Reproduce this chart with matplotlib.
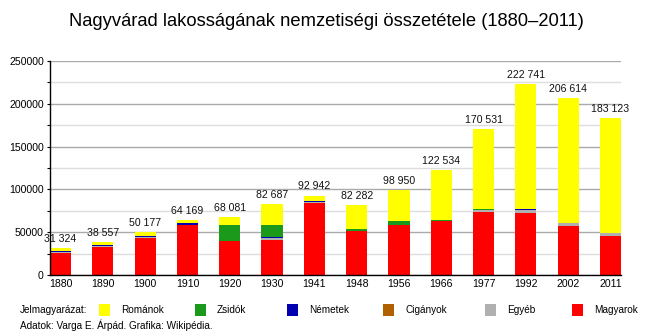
import numpy as np
import matplotlib
matplotlib.use("Agg")
import matplotlib.pyplot as plt
from matplotlib.patches import Rectangle
from matplotlib.ticker import MultipleLocator

plt.rcParams["font.family"] = ["Liberation Sans", "DejaVu Sans"]

# data: population by nationality, Nagyvárad census years
years = ["1880", "1890", "1900", "1910", "1920", "1930", "1941",
         "1948", "1956", "1966", "1977", "1992", "2002", "2011"]
totals = [31324, 38557, 50177, 64169, 68081, 82687, 92942,
          82282, 98950, 122534, 170531, 222741, 206614, 183123]
magyarok = [26500, 33500, 44000, 58421, 40300, 41500, 84800,
            51700, 58424, 62800, 74000, 72800, 56985, 45305]
egyeb = [700, 600, 800, 728, 0, 2200, 700,
         0, 700, 300, 2300, 3000, 4334, 4000]
ciganyok = [0, 0, 0, 0, 0, 300, 0,
            0, 0, 0, 0, 0, 0, 0]
nemetek = [1200, 700, 800, 1416, 0, 900, 1000,
           0, 0, 0, 0, 1000, 0, 0]
zsidok = [0, 0, 0, 0, 18500, 13700, 0,
          2800, 3830, 950, 900, 0, 0, 0]
# romanians: the rest of the total
romanok = [t - m - e - c - n - z for t, m, e, c, n, z in
           zip(totals, magyarok, egyeb, ciganyok, nemetek, zsidok)]

# bottom -> top stacking order
series = [
    ("Magyarok", magyarok, "#ff0000"),
    ("Egyéb", egyeb, "#b0b0b0"),
    ("Cigányok", ciganyok, "#b06000"),
    ("Németek", nemetek, "#0000b0"),
    ("Zsidók", zsidok, "#1a991a"),
    ("Románok", romanok, "#ffff00"),
]

W, H = 650, 335
fig = plt.figure(figsize=(W / 100, H / 100), dpi=100)
fig.patch.set_facecolor("white")
ax = fig.add_axes([50 / W, 1 - 275.3 / H, 571 / W, 214.6 / H])

x = np.arange(len(years))
bottom = np.zeros(len(years))
for name, vals, col in series:
    ax.bar(x, vals, width=0.5, bottom=bottom, color=col, linewidth=0, zorder=3)
    bottom += np.array(vals)

for xi, t in zip(x, totals):
    ax.annotate(f"{t:,}".replace(",", " "), (xi, t), xytext=(0, 3),
                textcoords="offset points", ha="center", va="bottom",
                fontsize=7.6, color="#111111")

ax.set_xlim(-0.25, len(years) - 0.75)
ax.set_ylim(0, 250000)
ax.set_xticks(x)
ax.set_xticklabels(years)
ax.yaxis.set_major_locator(MultipleLocator(50000))
ax.yaxis.set_minor_locator(MultipleLocator(25000))
ax.grid(axis="y", which="major", color="#aaaaaa", lw=1, zorder=0)
ax.grid(axis="y", which="minor", color="#dddddd", lw=1, zorder=0)
ax.tick_params(axis="x", length=0, labelsize=7.6, pad=3)
ax.tick_params(axis="y", which="both", length=2.5, width=0.8, labelsize=7.6, pad=2)
for s in ("top", "right"):
    ax.spines[s].set_visible(False)
for s in ("left", "bottom"):
    ax.spines[s].set_color("black")
    ax.spines[s].set_linewidth(1)
    ax.spines[s].set_zorder(4)

fig.text(326 / W, 1 - 22 / H,
         "Nagyvárad lakosságának nemzetiségi összetétele (1880–2011)",
         ha="center", va="center", fontsize=13.2)

# legend row at the bottom
ly = 1 - 310 / H
fig.text(20 / W, ly, "Jelmagyarázat:", ha="left", va="center", fontsize=7.2)
legend_items = [("Románok", "#ffff00", 99), ("Zsidók", "#1a991a", 195),
                ("Németek", "#0000b0", 287), ("Cigányok", "#b06000", 383),
                ("Egyéb", "#b0b0b0", 485), ("Magyarok", "#ff0000", 572)]
for name, col, px in legend_items:
    fig.patches.append(Rectangle((px / W, 1 - 316 / H), 11 / W, 12 / H,
                                 transform=fig.transFigure, facecolor=col,
                                 edgecolor="none"))
    fig.text((px + 22) / W, ly, name, ha="left", va="center", fontsize=7.2)
fig.text(20 / W, 1 - 325 / H, "Adatok: Varga E. Árpád. Grafika: Wikipédia.",
         ha="left", va="center", fontsize=7.2)

fig.savefig("out.png", dpi=100)
